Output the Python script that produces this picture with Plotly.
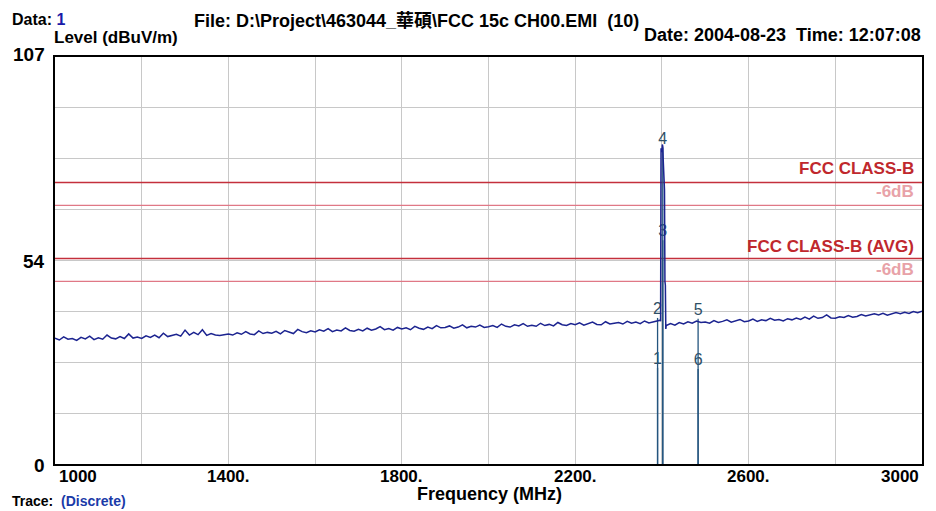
import plotly.graph_objects as go

# ---------------- data ----------------
# Spectrum sweep (MHz) below the carrier, 10 MHz step
freq_low = list(range(1000, 2400, 10))
level_low = [
    33.1, 32.6, 33.4, 32.8, 33.0, 32.5, 33.3, 32.9, 33.6, 32.7,
    33.2, 32.8, 33.9, 33.1, 32.9, 33.5, 33.0, 34.2, 33.1, 33.4,
    33.0, 33.7, 33.3, 33.9, 33.2, 34.4, 33.5, 33.8, 34.1, 33.6,
    35.2, 33.9, 34.6, 34.0, 35.3, 33.8, 34.3, 33.9, 33.8, 34.0,
    34.2, 33.9, 34.5, 34.1, 34.8, 34.2, 34.0, 35.0, 34.3, 34.6,
    34.4, 34.9, 34.2, 35.1, 34.6, 34.3, 35.4, 34.8, 34.5, 35.0,
    34.7, 35.3, 34.9, 35.6, 34.8, 35.2, 35.0, 35.8, 35.1, 34.9,
    35.4, 35.0, 35.7, 35.2, 35.5, 36.1, 35.3, 35.6, 35.2, 35.9,
    35.5, 35.8, 35.3, 36.2, 35.7, 35.4, 36.0, 35.6, 36.4, 35.8,
    35.9, 36.3, 35.7, 36.0, 36.6, 35.8, 36.2, 36.0, 36.5, 35.9,
    36.1, 36.4, 35.9, 36.8, 36.2, 36.0, 36.6, 36.3, 36.9, 36.2,
    36.5, 36.2, 37.0, 36.4, 36.7, 36.3, 37.2, 36.6, 36.4, 36.9,
    36.6, 37.1, 36.5, 36.9, 37.3, 36.7, 36.6, 37.4, 36.8, 37.0,
    37.2, 36.8, 37.5, 37.0, 37.3, 36.9, 37.6, 37.1, 37.4, 37.6,
]
# Carrier (channel 0, 2402 MHz)
freq_spike = [2396, 2397, 2398, 2400, 2401, 2402, 2403, 2404, 2405, 2406, 2407, 2408, 2409]
level_spike = [37.8, 37.5, 83.0, 82.0, 84.0, 83.5, 80.0, 76.0, 73.0, 72.0, 48.0, 47.0, 35.5]
# Sweep above the carrier
freq_high = list(range(2410, 3001, 10))
level_high = [
    36.4, 36.9, 36.5, 37.2, 36.8, 37.4, 37.0, 37.6, 37.2,
    37.3, 37.0, 37.7, 37.2, 37.5, 37.9, 37.3, 37.6, 38.0, 37.4,
    37.6, 38.1, 37.5, 37.9, 37.7, 38.3, 37.8, 38.0, 37.6, 38.2,
    37.9, 38.4, 38.0, 38.6, 38.1, 38.9, 38.3, 38.5, 39.2, 38.4,
    38.3, 38.7, 38.5, 39.0, 38.6, 38.8, 39.3, 38.9, 39.1, 39.5,
    39.2, 39.6, 39.1, 39.4, 39.8, 39.5, 39.9, 39.6, 40.1, 39.8,
    40.2,
]

# Discrete markers
marker_freq = [2390, 2390, 2402, 2402, 2483.5, 2483.5]
marker_level = [25.3, 38.4, 58.8, 83.2, 38.2, 25.0]
marker_label = ["1", "2", "3", "4", "5", "6"]

# Limit lines
limit_names = ["FCC CLASS-B", "-6dB", "FCC CLASS-B (AVG)", "-6dB"]
limit_values = [74, 68, 54, 48]
limit_main = [True, False, True, False]

x_tick_vals = [1000, 1400, 1800, 2200, 2600, 3000]
x_tick_text = ["1000", "1400.", "1800.", "2200.", "2600.", "3000"]
y_tick_vals = [107, 54, 0]
y_tick_text = ["107", "54", "0"]

X_MIN, X_MAX = 1000, 3000
Y_MIN, Y_MAX = 0, 107

# ---------------- layout geometry (pixels) ----------------
W, H = 936, 511
L, R, T, B = 55, 922, 57, 464


def px(xp):
    return (xp - L) / (R - L)


def py(yp):
    return (B - yp) / (B - T)


FONT = "Liberation Sans, Arial, Noto Sans CJK TC, sans-serif"

freq = freq_low + freq_spike + freq_high
level = level_low + level_spike + level_high

fig = go.Figure()

# limit lines
for v, main in zip(limit_values, limit_main):
    fig.add_trace(go.Scatter(
        x=[X_MIN, X_MAX], y=[v, v], mode="lines",
        line=dict(color="#c4303c" if main else "#e07886", width=1.5 if main else 1.2),
        hoverinfo="skip", showlegend=False))

# marker labels
fig.add_trace(go.Scatter(
    x=marker_freq, y=marker_level, mode="text", text=marker_label,
    textposition="top center",
    textfont=dict(family=FONT, size=16, color="#2f4f66"),
    showlegend=False, hoverinfo="skip"))

# discrete trace (vertical lines)
dx, dy = [], []
for f, v in zip(marker_freq, marker_level):
    dx += [f, f, None]
    dy += [0, v, None]
fig.add_trace(go.Scatter(
    x=dx, y=dy, mode="lines", line=dict(color="#24557e", width=1.3),
    showlegend=False, hoverinfo="skip"))

# spectrum
fig.add_trace(go.Scatter(
    x=freq, y=level, mode="lines", line=dict(color="#1c2490", width=1.5),
    showlegend=False, hoverinfo="skip"))

annotations = []

# header texts
annotations.append(dict(text="Data: <span style='color:#1a1aa8'>1</span>",
                        x=px(10), y=py(19), xanchor="left", yanchor="middle",
                        font=dict(family=FONT, size=16, color="black", weight="bold")))
annotations.append(dict(text="Level (dBuV/m)",
                        x=px(52), y=py(38), xanchor="left", yanchor="middle",
                        font=dict(family=FONT, size=17, color="black", weight="bold")))
annotations.append(dict(text="File: D:\\Project\\463044_華碩\\FCC 15c CH00.EMI\u00a0\u00a0(10)",
                        x=px(192), y=py(21), xanchor="left", yanchor="middle",
                        font=dict(family=FONT, size=18, color="black", weight="bold")))
annotations.append(dict(text="Date: 2004-08-23\u00a0\u00a0Time: 12:07:08",
                        x=px(923), y=py(35), xanchor="right", yanchor="middle",
                        font=dict(family=FONT, size=18, color="black", weight="bold")))

# y tick labels
for v, t in zip(y_tick_vals, y_tick_text):
    ypix = {107: 54, 54: 261, 0: 465}[v]
    annotations.append(dict(text=t, x=px(47), y=py(ypix), xanchor="right", yanchor="middle",
                            font=dict(family=FONT, size=19, color="black", weight="bold")))

# x tick labels
for v, t in zip(x_tick_vals, x_tick_text):
    if v == X_MIN:
        anchor, xx, xr = "left", px(57), "paper"
    elif v == X_MAX:
        anchor, xx, xr = "right", px(921), "paper"
    else:
        anchor, xx, xr = "center", v, "x"
    annotations.append(dict(text=t, x=xx, xref=xr, y=py(476), yref="paper",
                            xanchor=anchor, yanchor="middle",
                            font=dict(family=FONT, size=17, color="black", weight="bold")))

annotations.append(dict(text="Frequency (MHz)", x=px(489), y=py(494), xanchor="center", yanchor="middle",
                        font=dict(family=FONT, size=18, color="black", weight="bold")))
annotations.append(dict(text="Trace:\u00a0\u00a0<span style='color:#1a3aa8'>(Discrete)</span>",
                        x=px(10), y=py(511), xanchor="left", yanchor="bottom",
                        font=dict(family=FONT, size=14, color="black", weight="bold")))

# limit labels
lab_y = [169, 191.5, 246.5, 269]
for name, main, yy in zip(limit_names, limit_main, lab_y):
    annotations.append(dict(text=name, x=px(916), y=py(yy), xanchor="right", yanchor="middle",
                            font=dict(family=FONT, size=17,
                                      color="#c0282d" if main else "#e8a2a8", weight="bold")))

for a in annotations:
    a.setdefault("xref", "paper")
    a.setdefault("yref", "paper")
    a["showarrow"] = False

fig.update_layout(
    width=W, height=H,
    margin=dict(l=L, r=W - R, t=T, b=H - B, pad=0),
    paper_bgcolor="white", plot_bgcolor="white",
    annotations=annotations,
    xaxis=dict(range=[X_MIN, X_MAX], tickvals=list(range(1000, 3001, 200)),
               showticklabels=False, ticks="", showgrid=True, gridcolor="#c8c8c8", gridwidth=1,
               showline=True, linecolor="black", linewidth=2, mirror=True, zeroline=False),
    yaxis=dict(range=[Y_MIN, Y_MAX], tickvals=[107 / 8 * i for i in range(9)],
               showticklabels=False, ticks="", showgrid=True, gridcolor="#c8c8c8", gridwidth=1,
               showline=True, linecolor="black", linewidth=2, mirror=True, zeroline=False),
)

fig.write_html("out.html")
